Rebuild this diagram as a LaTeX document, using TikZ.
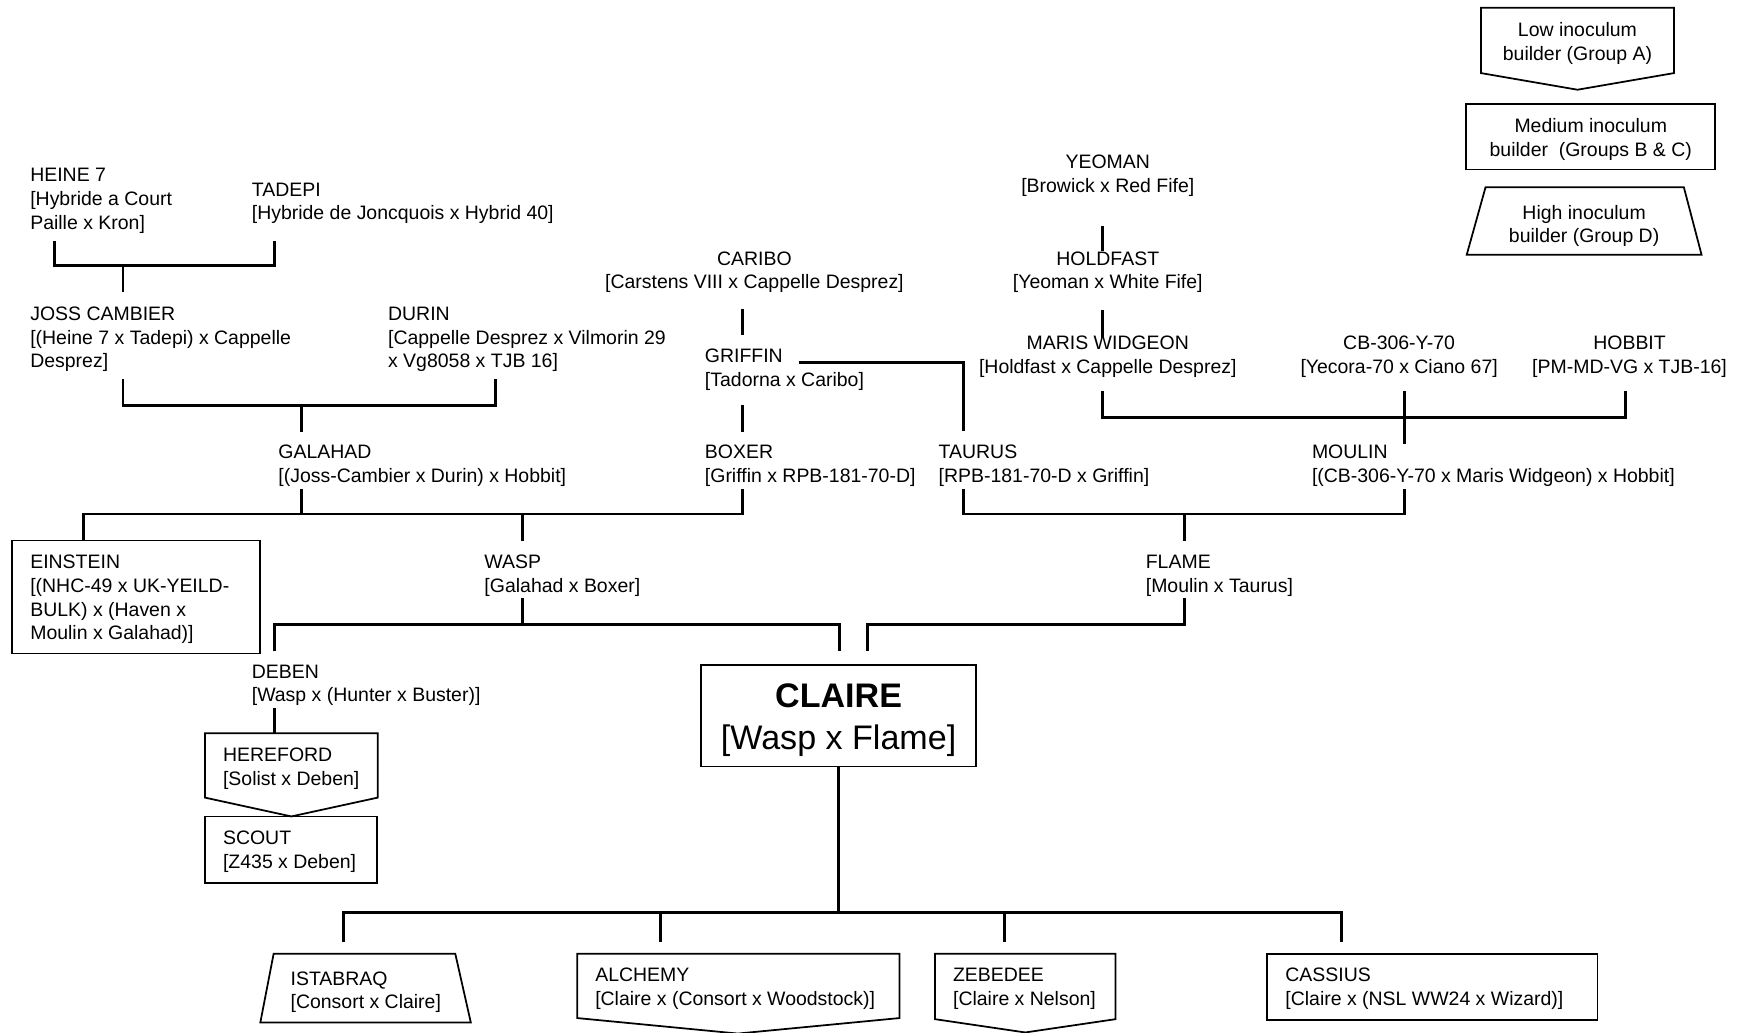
\documentclass[tikz,border=0pt]{standalone}
\usepackage{fontspec}
\setmainfont{Liberation Sans}
\begin{document}
\begin{tikzpicture}[x=0.02cm,y=-0.02cm,
  lbl/.style={inner sep=0pt, font=\fontsize{10}{12.2}\selectfont, align=left, anchor=north west},
  clbl/.style={inner sep=0pt, font=\fontsize{10}{12.2}\selectfont, align=center, anchor=north},
  conn/.style={line width=1.5pt},
  outline/.style={draw, line width=0.9pt},
  boxst/.style={draw, line width=0.9pt, inner sep=0pt}]
\useasboundingbox (0,0) rectangle (1568,932);

% ---------- text labels ----------
\node[lbl] (heine) at (27,151.7) {HEINE 7\\{}[Hybride a Court\\Paille x Kron]};
\node[lbl] (tadepi) at (227,164.7) {TADEPI\\{}[Hybride de Joncquois x Hybrid 40]};
\node[lbl] (joss) at (27,276.7) {JOSS CAMBIER\\{}[(Heine 7 x Tadepi) x Cappelle\\Desprez]};
\node[lbl] (durin) at (350,276.7) {DURIN\\{}[Cappelle Desprez x Vilmorin 29\\x Vg8058 x TJB 16]};
\node[lbl] (galahad) at (251,401.7) {GALAHAD\\{}[(Joss-Cambier x Durin) x Hobbit]};
\node[clbl] (caribo) at (681,226.7) {CARIBO\\{}[Carstens VIII x Cappelle Desprez]};
\node[lbl] (griffin) at (636,314.7) {GRIFFIN\\{}[Tadorna x Caribo]};
\node[lbl] (boxer) at (636,401.7) {BOXER\\{}[Griffin x RPB-181-70-D]};
\node[lbl] (taurus) at (847,401.7) {TAURUS\\{}[RPB-181-70-D x Griffin]};
\node[clbl] (yeoman) at (1000,139.7) {YEOMAN\\{}[Browick x Red Fife]};
\node[clbl] (holdfast) at (1000,226.7) {HOLDFAST\\{}[Yeoman x White Fife]};
\node[clbl] (maris) at (1000,302.7) {MARIS WIDGEON\\{}[Holdfast x Cappelle Desprez]};
\node[clbl] (cb306) at (1263,302.7) {CB-306-Y-70\\{}[Yecora-70 x Ciano 67]};
\node[clbl] (hobbit) at (1471,302.7) {HOBBIT\\{}[PM-MD-VG x TJB-16]};
\node[lbl] (moulin) at (1184,401.7) {MOULIN\\{}[(CB-306-Y-70 x Maris Widgeon) x Hobbit]};
\node[lbl] (wasp) at (437,500.7) {WASP\\{}[Galahad x Boxer]};
\node[lbl] (flame) at (1034,500.7) {FLAME\\{}[Moulin x Taurus]};
\node[lbl] (deben) at (227,599.7) {DEBEN\\{}[Wasp x (Hunter x Buster)]};

% ---------- boxes ----------
\node[boxst, minimum width=4.48cm, minimum height=2.04cm] (einstein) at (123,539) {};
\node[lbl] (einstein-t) at (27,500.7) {EINSTEIN\\{}[(NHC-49 x UK-YEILD-\\BULK) x (Haven x\\Moulin x Galahad)]};

\draw[outline] (185,662) -- (341,662) -- (341,720) -- (263,737) -- (185,720) -- cycle;
\node[lbl] (hereford) at (201,674.7) {HEREFORD\\{}[Solist x Deben]};

\node[boxst, minimum width=3.1cm, minimum height=1.2cm] (scout) at (262.5,767) {};
\node[lbl] (scout-t) at (201,749.7) {SCOUT\\{}[Z435 x Deben]};

\node[boxst, minimum width=4.96cm, minimum height=1.84cm] (claire) at (757,646) {};
\node[inner sep=0pt, align=center, anchor=north, font=\fontsize{17.5}{21.5}\selectfont] (claire-t) at (757,617) {\textbf{CLAIRE}\\{}[Wasp x Flame]};

\draw[outline] (247,861) -- (411,861) -- (425,923) -- (235,923) -- cycle;
\node[lbl] (istabraq) at (262,876.7) {ISTABRAQ\\{}[Consort x Claire]};

\draw[outline] (521,861) -- (812,861) -- (812,919) -- (666,933) -- (521,919) -- cycle;
\node[lbl] (alchemy) at (537,873.7) {ALCHEMY\\{}[Claire x (Consort x Woodstock)]};

\draw[outline] (844,861) -- (1007,861) -- (1007,920) -- (925.5,932) -- (844,920) -- cycle;
\node[lbl] (zebedee) at (860,873.7) {ZEBEDEE\\{}[Claire x Nelson]};

\node[boxst, minimum width=5.96cm, minimum height=1.2cm] (cassius) at (1293,891) {};
\node[lbl] (cassius-t) at (1160,873.7) {CASSIUS\\{}[Claire x (NSL WW24 x Wizard)]};

% ---------- legend ----------
\draw[outline] (1337,7) -- (1511,7) -- (1511,66) -- (1424,81) -- (1337,66) -- cycle;
\node[clbl] (low) at (1424,19.7) {Low inoculum\\builder (Group A)};
\node[boxst, minimum width=4.5cm, minimum height=1.18cm] (medium) at (1435.5,123.5) {};
\node[clbl] (medium-t) at (1436,106.7) {Medium inoculum\\builder\ \ (Groups B \& C)};
\draw[outline] (1341,169) -- (1520,169) -- (1536,230) -- (1324,230) -- cycle;
\node[clbl] (high) at (1430,184.7) {High inoculum\\builder (Group D)};

% ---------- connector points ----------
\coordinate (heine-d) at (49,218);
\coordinate (tadepi-d) at (248,218);
\coordinate (ht-j) at (111,240);
\coordinate (joss-u) at (111,264);
\coordinate (joss-d) at (111,342);
\coordinate (durin-d) at (447,342);
\coordinate (jd-j) at (272,366);
\coordinate (galahad-u) at (272,390);
\coordinate (galahad-d) at (272,441);
\coordinate (boxer-d) at (670,441);
\coordinate (gb-j) at (472,464);
\coordinate (einstein-u) at (75,488);
\coordinate (wasp-u) at (472,488);
\coordinate (caribo-d) at (670,279);
\coordinate (griffin-u) at (670,302);
\coordinate (griffin-d) at (670,366);
\coordinate (boxer-u) at (670,390);
\coordinate (griffin-r) at (721,327);
\coordinate (taurus-u) at (870,389);
\coordinate (yeoman-d) at (995,204);
\coordinate (holdfast-u) at (995,227);
\coordinate (holdfast-d) at (995,280);
\coordinate (maris-u) at (995,305);
\coordinate (maris-d) at (995,353);
\coordinate (hobbit-d) at (1467,353);
\coordinate (cb-d) at (1268,353);
\coordinate (mh-j) at (1268,377);
\coordinate (moulin-u) at (1268,401);
\coordinate (taurus-d) at (870,441);
\coordinate (moulin-d) at (1268,441);
\coordinate (tm-j) at (1069,464);
\coordinate (flame-u) at (1069,488);
\coordinate (wasp-d) at (472,540);
\coordinate (wj) at (472,564);
\coordinate (deben-u) at (248,588);
\coordinate (claire-ul) at (758,588);
\coordinate (flame-d) at (1069,540);
\coordinate (fj) at (1069,564);
\coordinate (claire-ur) at (783,588);
\coordinate (deben-d) at (248,639);
\coordinate (hereford-u) at (248,662);
\coordinate (cj) at (757,824);
\coordinate (ist-u) at (310,850);
\coordinate (alc-u) at (596,850);
\coordinate (zeb-u) at (907,850);
\coordinate (cas-u) at (1211,850);

% ---------- connectors ----------
\draw[conn] (heine-d) |- (ht-j) -| (tadepi-d);
\draw[conn] (ht-j) -- (joss-u);
\draw[conn] (joss-d) |- (jd-j) -| (durin-d);
\draw[conn] (jd-j) -- (galahad-u);
\draw[conn] (einstein-u) |- (gb-j) -| (boxer-d);
\draw[conn] (galahad-d) -- (galahad-d |- gb-j);
\draw[conn] (gb-j) -- (wasp-u);
\draw[conn] (caribo-d) -- (griffin-u);
\draw[conn] (griffin-d) -- (boxer-u);
\draw[conn] (griffin-r) -| (taurus-u);
\draw[conn] (yeoman-d) -- (holdfast-u);
\draw[conn] (holdfast-d) -- (maris-u);
\draw[conn] (maris-d) |- (mh-j) -| (hobbit-d);
\draw[conn] (cb-d) -- (moulin-u);
\draw[conn] (taurus-d) |- (tm-j) -| (moulin-d);
\draw[conn] (tm-j) -- (flame-u);
\draw[conn] (wasp-d) -- (wj);
\draw[conn] (deben-u) |- (wj) -| (claire-ul);
\draw[conn] (flame-d) -- (fj) -| (claire-ur);
\draw[conn] (deben-d) -- (hereford-u);
\draw[conn] (claire.south) -- (cj);
\draw[conn] (ist-u) |- (cj) -| (cas-u);
\draw[conn] (alc-u) -- (alc-u |- cj);
\draw[conn] (zeb-u) -- (zeb-u |- cj);
\end{tikzpicture}
\end{document}
